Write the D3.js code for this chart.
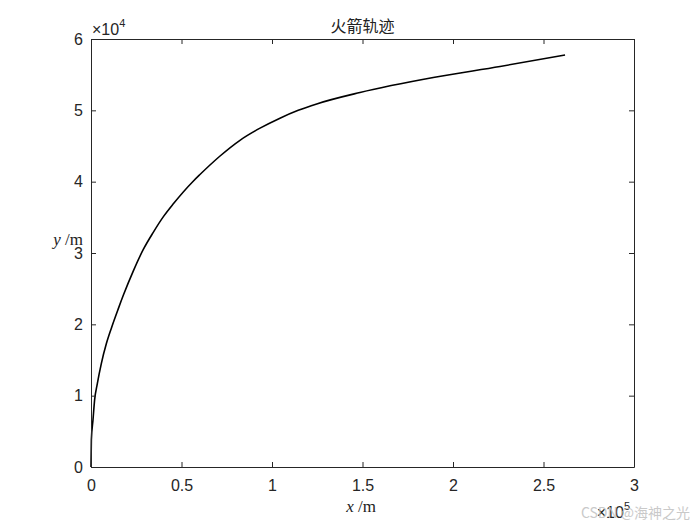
<!DOCTYPE html>
<html lang="zh">
<head>
<meta charset="utf-8">
<title>火箭轨迹</title>
<script src="https://cdn.jsdelivr.net/npm/d3@7"></script>
<style>
  body { margin: 0; background: #fff; }
  svg { display: block; }
</style>
</head>
<body>
<script>
// trajectory points (metres)
const xPos = [0, 200, 1100, 2000, 3500, 5700, 8500, 11300, 15100, 17900, 23400, 28900, 34400,
  40000, 45500, 56600, 60200, 71300, 82300, 93400, 104400, 114500, 124700, 148600, 189100,
  226000, 261900];
const yPos = [0, 3800, 6600, 9400, 11700, 14500, 17300, 19500, 22200, 24100, 27500, 30500, 32900,
  35100, 36900, 40100, 41000, 43600, 45800, 47500, 48900, 50000, 50900, 52500, 54600,
  56150, 57760];

const xTicks = [0, 0.5, 1, 1.5, 2, 2.5, 3];
const yTicks = [0, 1, 2, 3, 4, 5, 6];
const titleText = "火箭轨迹";

const W = 700, H = 525;
const m = { left: 91, right: 66, top: 39, bottom: 58 };
const iw = W - m.left - m.right, ih = H - m.top - m.bottom;
const axisColor = "#262626";
const sans = "'Liberation Sans', Arial, sans-serif";
const serif = "'Liberation Serif', 'Times New Roman', serif";

const svg = d3.select("body").append("svg").attr("width", W).attr("height", H);
const g = svg.append("g").attr("transform", `translate(${m.left},${m.top})`);

const x = d3.scaleLinear().domain([0, 3e5]).range([0, iw]);
const y = d3.scaleLinear().domain([0, 6e4]).range([ih, 0]);

// trajectory
const pts = xPos.map((d, i) => [d, yPos[i]]);
g.append("path")
  .datum(pts)
  .attr("fill", "none")
  .attr("stroke", "#000")
  .attr("stroke-width", 1.6)
  .attr("d", d3.line().x(d => x(d[0])).y(d => y(d[1])).curve(d3.curveMonotoneX));

// axes, ticks pointing inward on all four sides
function styleAxis(sel) {
  sel.select(".domain").attr("stroke", axisColor);
  sel.selectAll(".tick line").attr("stroke", axisColor);
  sel.selectAll(".tick text").attr("fill", axisColor)
    .attr("font-family", sans).attr("font-size", 16);
}

g.append("g").attr("transform", `translate(0,${ih})`)
  .call(d3.axisBottom(x).tickValues(xTicks.map(d => d * 1e5))
    .tickFormat(d => d3.format("~g")(d / 1e5)).tickSizeInner(-5).tickSizeOuter(0).tickPadding(13))
  .call(styleAxis);

g.append("g")
  .call(d3.axisTop(x).tickValues(xTicks.map(d => d * 1e5))
    .tickFormat("").tickSizeInner(-5).tickSizeOuter(0))
  .call(styleAxis);

g.append("g")
  .call(d3.axisLeft(y).tickValues(yTicks.map(d => d * 1e4))
    .tickFormat(d => d3.format("~g")(d / 1e4)).tickSizeInner(-5).tickSizeOuter(0).tickPadding(8))
  .call(styleAxis);

g.append("g").attr("transform", `translate(${iw},0)`)
  .call(d3.axisRight(y).tickValues(yTicks.map(d => d * 1e4))
    .tickFormat("").tickSizeInner(-5).tickSizeOuter(0))
  .call(styleAxis);

// exponent labels
const ey = svg.append("text").attr("x", m.left + 1).attr("y", 35)
  .attr("font-family", sans).attr("font-size", 16).attr("fill", axisColor);
ey.append("tspan").text("×10");
ey.append("tspan").attr("dy", -8).attr("font-size", 11).text("4");

const ex = svg.append("text").attr("x", m.left + iw - 4).attr("y", 518)
  .attr("text-anchor", "end")
  .attr("font-family", sans).attr("font-size", 16).attr("fill", axisColor);
ex.append("tspan").text("×10");
ex.append("tspan").attr("dy", -8).attr("font-size", 11).text("5");

// title and axis labels
svg.append("text").attr("x", m.left + iw / 2).attr("y", 32)
  .attr("text-anchor", "middle")
  .attr("font-family", "'Noto Sans CJK SC', sans-serif").attr("font-size", 16)
  .attr("fill", "#222").text(titleText);

const xl = svg.append("text").attr("x", 361).attr("y", 512)
  .attr("text-anchor", "middle").attr("font-family", serif).attr("font-size", 17).attr("fill", "#222");
xl.append("tspan").attr("font-style", "italic").text("x");
xl.append("tspan").text(" /m");

const yl = svg.append("text").attr("x", 68).attr("y", 245)
  .attr("text-anchor", "middle").attr("font-family", serif).attr("font-size", 17).attr("fill", "#222");
yl.append("tspan").attr("font-style", "italic").text("y");
yl.append("tspan").text(" /m");

// watermark
svg.append("text").attr("x", 690).attr("y", 518).attr("text-anchor", "end")
  .attr("font-family", "'Noto Sans CJK SC', sans-serif").attr("font-size", 14)
  .attr("fill", "#c4c4c4").attr("opacity", 0.9).text("CSDN @海神之光");
</script>
</body>
</html>
